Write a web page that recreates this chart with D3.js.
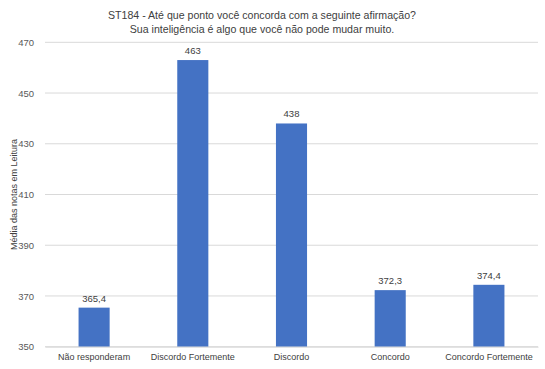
<!DOCTYPE html>
<html>
<head>
<meta charset="utf-8">
<script src="https://cdn.jsdelivr.net/npm/d3@7"></script>
<style>
  body { margin: 0; background: #fff; }
  text { font-family: "Liberation Sans", Arial, sans-serif; }
</style>
</head>
<body>
<div id="chart"></div>
<script>
var categories = ["Não responderam", "Discordo Fortemente", "Discordo", "Concordo", "Concordo Fortemente"];
var values = [365.4, 463, 438, 372.3, 374.4];
var valueLabels = ["365,4", "463", "438", "372,3", "374,4"];
var yTicks = [350, 370, 390, 410, 430, 450, 470];
var titleLines = ["ST184 - Até que ponto você concorda com a seguinte afirmação?",
  "Sua inteligência é algo que você não pode mudar muito."];
var yTitle = "Média das notas em Leitura";

var svgWidth = 545;
var svgHeight = 369;

var margin = { top: 42.3, right: 7, bottom: 22.3, left: 45 };
var width = svgWidth - margin.left - margin.right;
var height = svgHeight - margin.top - margin.bottom;

var svg = d3.select("#chart")
  .append("svg")
  .attr("width", svgWidth)
  .attr("height", svgHeight);

var chartGroup = svg.append("g")
  .attr("transform", `translate(${margin.left}, ${margin.top})`);

var xScale = d3.scaleBand()
  .domain(categories)
  .range([0, width])
  .paddingInner(0.685)
  .paddingOuter(0.34);

var yScale = d3.scaleLinear()
  .domain([350, 470])
  .range([height, 0]);

// gridlines
chartGroup.selectAll(".grid")
  .data(yTicks)
  .enter().append("line")
  .attr("x1", 0)
  .attr("x2", width)
  .attr("y1", d => yScale(d))
  .attr("y2", d => yScale(d))
  .attr("stroke", "#d9d9d9")
  .attr("stroke-width", 1);

// y tick labels
var leftAxis = d3.axisLeft(yScale).tickValues(yTicks).tickSize(0).tickPadding(11);
var yAxisG = chartGroup.append("g").call(leftAxis);
yAxisG.select(".domain").remove();
yAxisG.selectAll("text")
  .attr("fill", "#595959")
  .attr("font-size", 9.5)
  .style("font-family", "Liberation Sans, Arial, sans-serif");

// bars
chartGroup.selectAll("rect")
  .data(values)
  .enter()
  .append("rect")
  .attr("x", (d, i) => xScale(categories[i]))
  .attr("y", d => yScale(d))
  .attr("width", xScale.bandwidth())
  .attr("height", d => height - yScale(d))
  .attr("fill", "#4472c4");

// data labels
chartGroup.selectAll(".vlabel")
  .data(values)
  .enter().append("text")
  .attr("class", "vlabel")
  .attr("x", (d, i) => xScale(categories[i]) + xScale.bandwidth() / 2)
  .attr("y", d => yScale(d) - 6)
  .attr("text-anchor", "middle")
  .attr("fill", "#404040")
  .attr("font-size", 9.5)
  .text((d, i) => valueLabels[i]);

// x axis labels
var bottomAxis = d3.axisBottom(xScale).tickSize(0).tickPadding(7);
var xAxisG = chartGroup.append("g")
  .attr("transform", `translate(0, ${height})`)
  .call(bottomAxis);
xAxisG.select(".domain").attr("stroke", "#d9d9d9");
xAxisG.selectAll("text")
  .attr("fill", "#404040")
  .attr("font-size", 9)
  .style("font-family", "Liberation Sans, Arial, sans-serif");

// y axis title
svg.append("text")
  .attr("transform", `translate(17, ${margin.top + height / 2}) rotate(-90)`)
  .attr("text-anchor", "middle")
  .attr("fill", "#404040")
  .attr("font-size", 9)
  .text(yTitle);

// title
svg.selectAll(".title")
  .data(titleLines)
  .enter().append("text")
  .attr("class", "title")
  .attr("x", 262)
  .attr("y", (d, i) => 18.5 + i * 14.5)
  .attr("text-anchor", "middle")
  .attr("fill", "#404040")
  .attr("font-size", 10.6)
  .text(d => d);
</script>
</body>
</html>
